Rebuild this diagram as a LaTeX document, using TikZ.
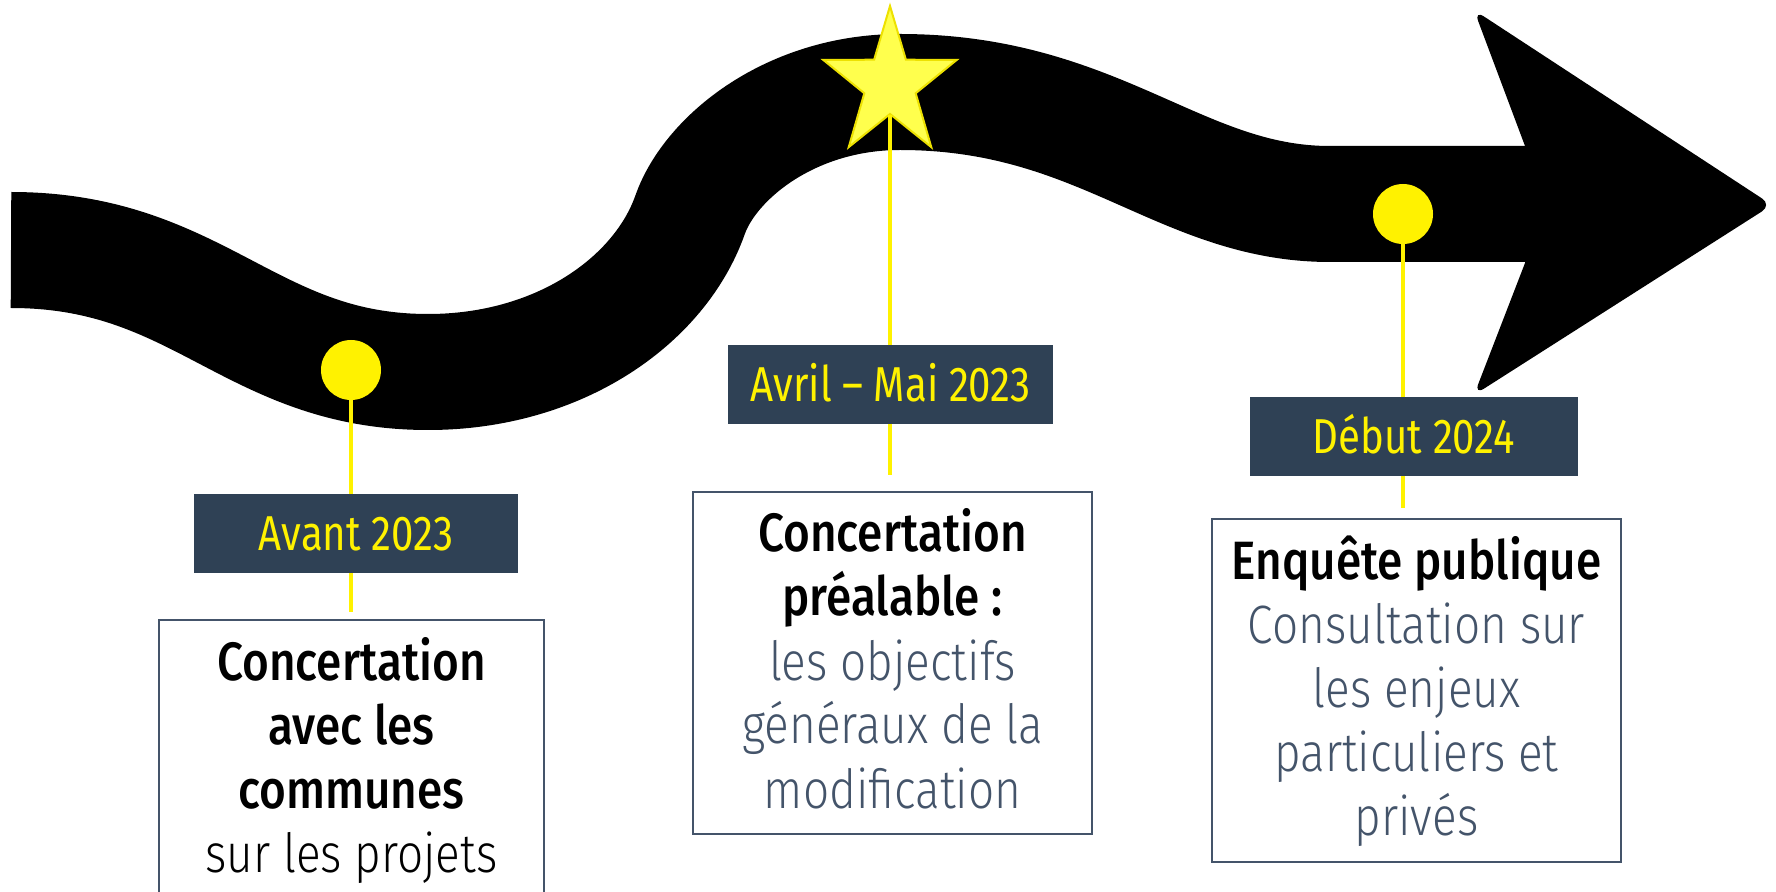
\documentclass[tikz,border=0pt]{standalone}
\usepackage{fontspec}
\setmainfont{Fira Sans}
\newfontfamily\fmed{Fira Sans Medium}[FakeStretch=0.85]
\newfontfamily\flight{Fira Sans Light}[FakeStretch=0.85]
\newfontfamily\freg{Fira Sans}[FakeStretch=0.82]
\usetikzlibrary{shapes.geometric}
\definecolor{slate}{HTML}{2F4155}
\definecolor{grtext}{HTML}{44546A}
\definecolor{ylw}{HTML}{FFF200}
\definecolor{starfill}{HTML}{FFFF4D}
\definecolor{stardraw}{HTML}{EDE100}
\definecolor{boxline}{HTML}{44546A}
\newcommand\boxtext[2]{\vtop{\hsize=#1\fontsize{27pt}{32pt}\selectfont\centering #2\par}}
\begin{document}
\begin{tikzpicture}[x=0.5pt,y=-0.5pt,
  road/.style={line width=58pt, draw=black},
  dot/.style={circle, fill=ylw, minimum size=30pt, inner sep=0pt},
  stem/.style={draw=ylw, line width=2.25pt},
  datelabel/.style={fill=slate, text=ylw, minimum height=39.5pt, inner sep=0pt,
    font=\freg\fontsize{24.5pt}{28pt}\selectfont, text height=17pt, text depth=0pt},
  stepbox/.style={draw=boxline, line width=1pt, fill=white, inner sep=0pt},
  boxtxt/.style={inner sep=0pt, anchor=base}]
\useasboundingbox (0,0) rectangle (1776,892);
\clip (0,0) rectangle (1776,892);
% road
\draw[road] (11,250) .. controls (200,250) and (250,372) .. (428,372)
  .. controls (560,372) and (660,300) .. (690,215)
  .. controls (710,158) and (790,92) .. (900,92)
  .. controls (1100,92) and (1180,204) .. (1330,204) -- (1540,204);
\fill[black] (1525,146) [rounded corners=6pt] -- (1474,10) -- (1772,205) -- (1474,395) [sharp corners] -- (1525,263) -- cycle;
% markers
\node[dot] (d1) at (351,370) {};
\node[dot] (d2) at (1403,214) {};
\begin{scope}[shift={(890,84)}, xscale=0.9]
\node[star, star points=5, star point ratio=2.6, minimum size=78pt, inner sep=0pt,
  fill=starfill, draw=stardraw, line width=1pt, transform shape] (st) at (0,0) {};
\end{scope}
\coordinate (e1) at (351,612);
\coordinate (e2) at (890,475);
\coordinate (e3) at (1403,508);
\draw[stem] (d1.south) -- (e1);
\draw[stem] (st.inner point 3) -- (e2);
\draw[stem] (d2.south) -- (e3);
% date labels
\node[datelabel, minimum width=162pt] (l1) at (356,533.5) {Avant 2023};
\node[datelabel, minimum width=162.5pt] (l2) at (890.5,384.5) {Avril – Mai 2023};
\node[datelabel, minimum width=164pt] (l3) at (1414,436.5) {Début 2024};
% boxes
\node[stepbox, minimum width=192.5pt, minimum height=200pt, anchor=north] (b1) at (351.5,619) {};
\node[stepbox, minimum width=199.5pt, minimum height=171pt, anchor=north] (b2) at (892.5,491) {};
\node[stepbox, minimum width=204.5pt, minimum height=171.5pt, anchor=north] (b3) at (1416.5,518) {};
\node[boxtxt] (t1) at ([yshift=-30.5pt]b1.north) {\boxtext{190pt}{\fmed Concertation\\avec les\\communes\\{\flight sur les projets}}};
\node[boxtxt] (t2) at ([yshift=-30.5pt]b2.north) {\boxtext{198pt}{\fmed Concertation\\préalable :\\{\flight\color{grtext}les objectifs\\généraux de la\\modification}}};
\node[boxtxt] (t3) at ([yshift=-30.5pt]b3.north) {\boxtext{203pt}{\fmed Enquête publique\\{\flight\color{grtext}Consultation sur\\les enjeux\\particuliers et\\privés}}};
\end{tikzpicture}
\end{document}
